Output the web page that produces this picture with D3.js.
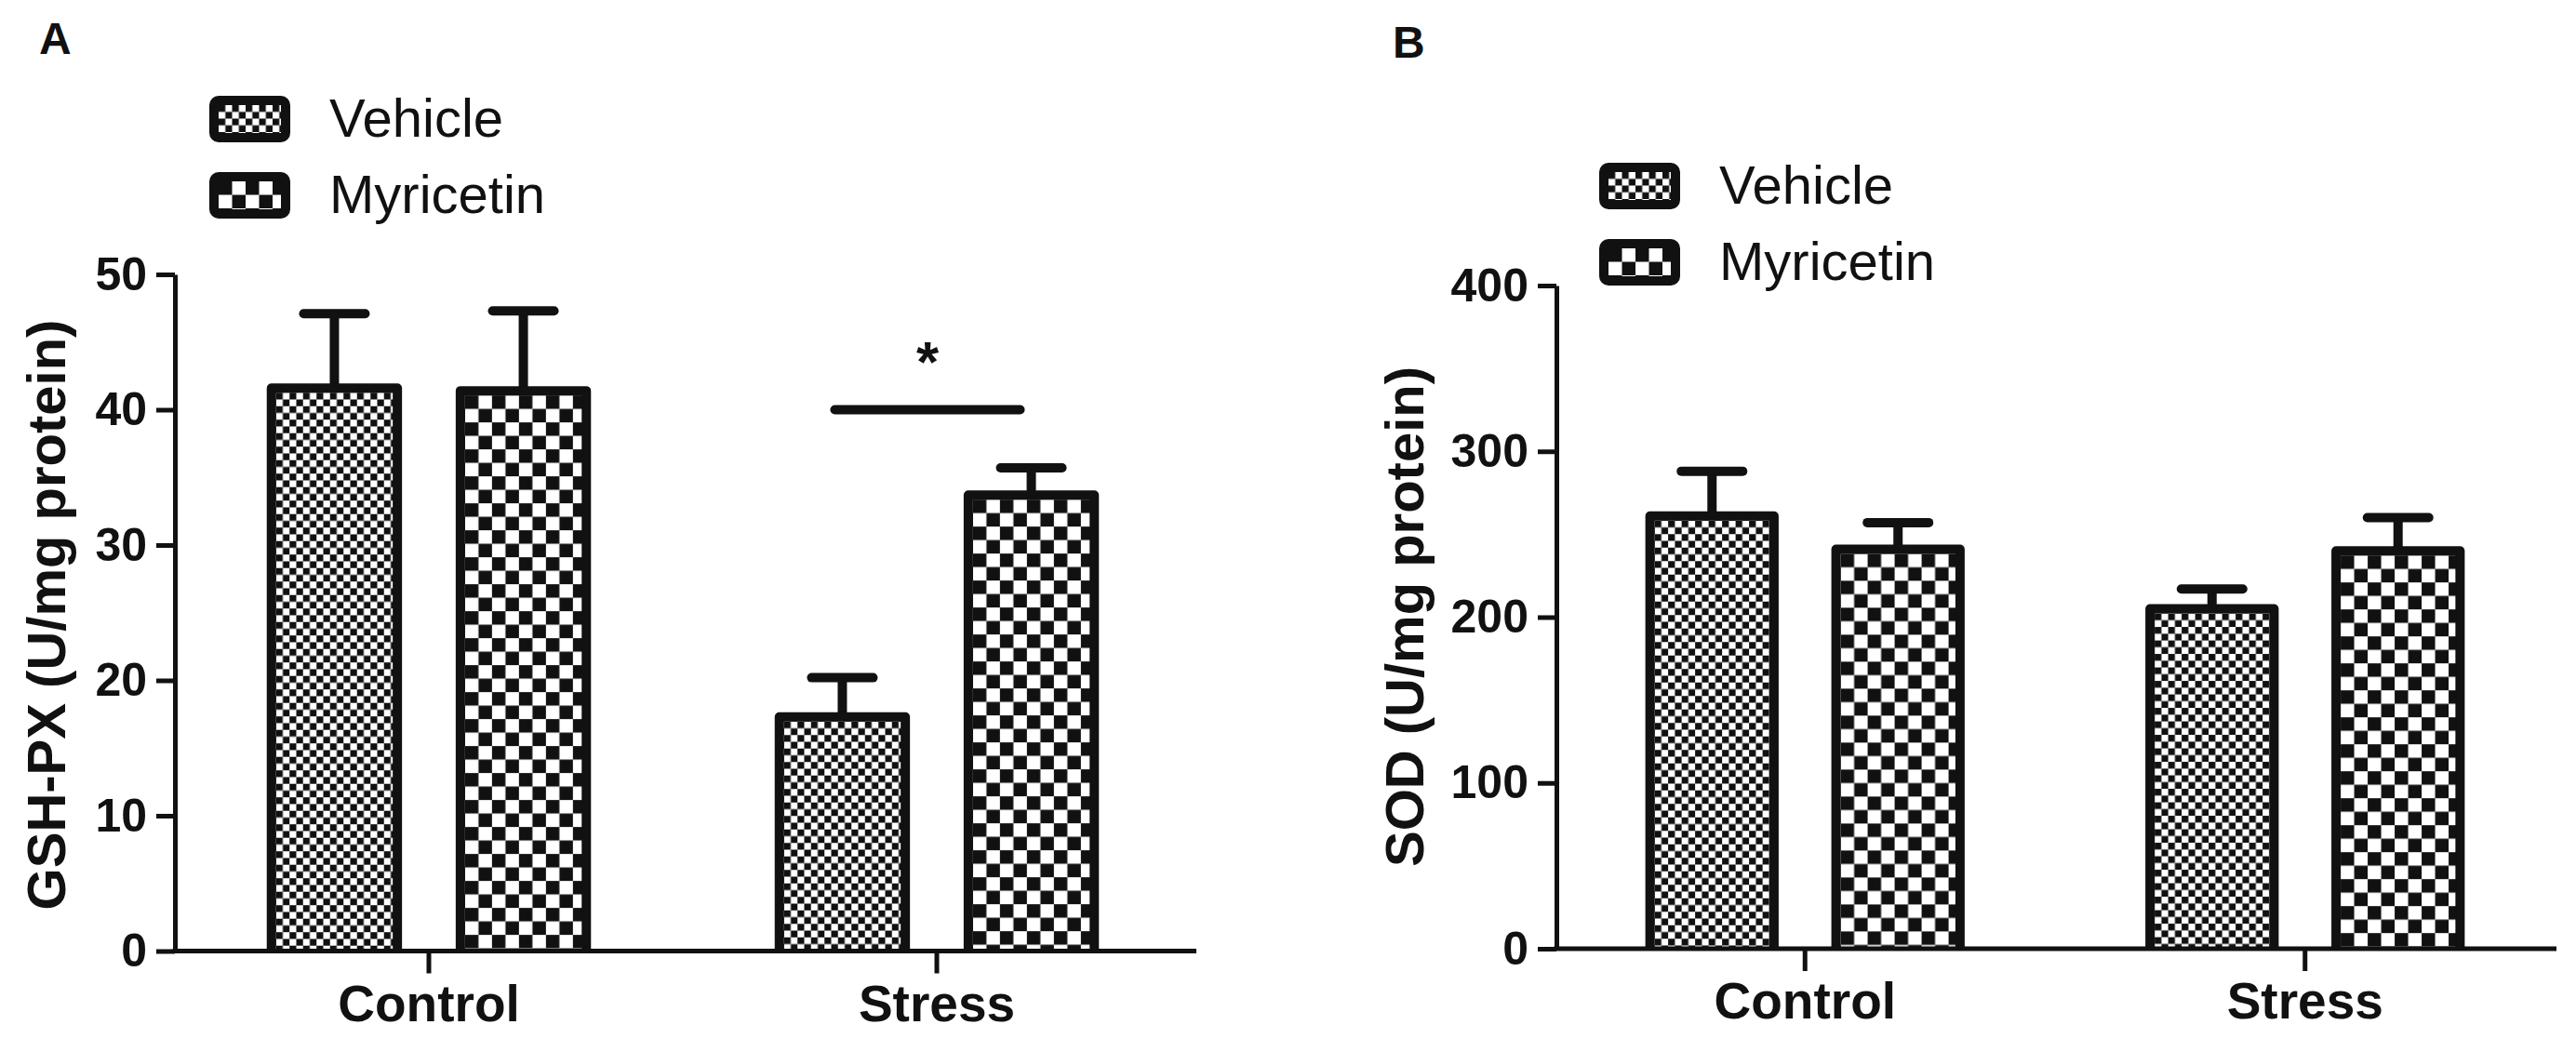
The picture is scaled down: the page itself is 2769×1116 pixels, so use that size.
<!DOCTYPE html>
<html>
<head>
<meta charset="utf-8">
<script src="https://cdn.jsdelivr.net/npm/d3@7"></script>
<style>
  body { margin: 0; background: #fff; }
  text { font-family: "Liberation Sans", Arial, sans-serif; fill: #111; }
</style>
</head>
<body>
<svg width="2769" height="1116"></svg>
<script>
'use strict';

// values (mean and SEM, rows = categories, cols = series)
var categories = ['Control', 'Stress'];
var series = ['Vehicle', 'Myricetin'];
var gshMean = [[41.6, 41.4], [17.3, 33.7]];
var gshSem = [[5.5, 5.9], [2.9, 2.0]];
var sodMean = [[261, 241], [205, 240]];
var sodSem = [[27, 16], [12, 20]];
var gshTicks = [0, 10, 20, 30, 40, 50];
var sodTicks = [0, 100, 200, 300, 400];

var ink = '#111';
var cellSize = [7.25, 14.5]; // checker cell per series

var svg = d3.select('svg');
var defs = svg.append('defs');

function makePattern(id, cell, x0, y0) {
    var p = defs.append('pattern')
        .attr('id', id)
        .attr('patternUnits', 'userSpaceOnUse')
        .attr('x', x0).attr('y', y0)
        .attr('width', cell * 2).attr('height', cell * 2);
    p.append('rect').attr('width', cell * 2).attr('height', cell * 2).attr('fill', '#fff');
    p.append('rect').attr('width', cell).attr('height', cell).attr('fill', ink);
    p.append('rect').attr('x', cell).attr('y', cell).attr('width', cell).attr('height', cell).attr('fill', ink);
    return 'url(#' + id + ')';
}

function drawPanel(o) {
    var g = svg.append('g');

    var y = d3.scaleLinear().domain([0, o.max]).range([o.bottom, o.top]);
    var x0 = d3.scaleBand().domain(categories).range(o.xRange)
        .paddingInner(0.38).paddingOuter(0.19);
    var x1 = d3.scaleBand().domain(series).range([0, x0.bandwidth()])
        .paddingInner(1 / 3);

    // panel letter
    g.append('text').attr('x', o.letterX).attr('y', o.letterY)
        .style('font-size', '48px').style('font-weight', 'bold').text(o.letter);

    // legend
    series.forEach(function(s, i) {
        var ly = o.legendY + i * 82;
        var fill = makePattern(o.id + '-leg-' + i, cellSize[i], o.legendX + 5, ly + 5);
        g.append('rect')
            .attr('x', o.legendX).attr('y', ly)
            .attr('width', 77).attr('height', 40).attr('rx', 5)
            .attr('fill', fill).attr('stroke', ink).attr('stroke-width', 10);
        g.append('text')
            .attr('x', o.legendX + 124).attr('y', ly + 39)
            .style('font-size', '58px').text(s);
    });

    // bars + error bars
    var rows = [];
    categories.forEach(function(c, ci) {
        series.forEach(function(s, si) {
            rows.push({cat: c, ser: s, si: si, key: o.id + '-' + ci + '-' + si,
                       mean: o.mean[ci][si], sem: o.sem[ci][si]});
        });
    });

    var bars = g.selectAll('.bar').data(rows).enter().append('g').attr('class', 'bar');

    bars.each(function(d) {
        var bx = x0(d.cat) + x1(d.ser);
        var bw = x1.bandwidth();
        var cx = bx + bw / 2;
        var top = y(d.mean);
        var errTop = y(d.mean + d.sem);
        var sel = d3.select(this);

        sel.append('line')
            .attr('x1', cx).attr('x2', cx).attr('y1', top).attr('y2', errTop)
            .attr('stroke', ink).attr('stroke-width', 10);
        sel.append('line')
            .attr('x1', cx - 33).attr('x2', cx + 33).attr('y1', errTop).attr('y2', errTop)
            .attr('stroke', ink).attr('stroke-width', 10).attr('stroke-linecap', 'round');

        var fill = makePattern('pat-' + d.key, cellSize[d.si], bx + 5, top + 5);
        sel.append('path')
            .attr('d', 'M' + bx + ',' + y(0) + 'V' + top + 'H' + (bx + bw) + 'V' + y(0))
            .attr('fill', fill).attr('stroke', ink).attr('stroke-width', 10)
            .attr('stroke-linejoin', 'round');
    });

    // y axis
    var yAxis = g.append('g').attr('transform', 'translate(' + o.xAxisStart + ',0)')
        .call(d3.axisLeft(y).tickValues(o.ticks).tickSize(20).tickPadding(10).tickSizeOuter(0));
    yAxis.select('.domain').attr('stroke', ink).attr('stroke-width', 5);
    yAxis.selectAll('.tick line').attr('stroke', ink).attr('stroke-width', 5);
    yAxis.selectAll('.tick text')
        .style('font-size', '50px').style('font-weight', 'bold')
        .style('font-family', '"Liberation Sans", Arial, sans-serif').attr('fill', ink);

    // x axis
    g.append('line')
        .attr('x1', o.xAxisStart - 2.5).attr('x2', o.xAxisEnd)
        .attr('y1', y(0)).attr('y2', y(0))
        .attr('stroke', ink).attr('stroke-width', 5);
    var xAxis = g.append('g').attr('transform', 'translate(0,' + y(0) + ')')
        .call(d3.axisBottom(x0).tickSize(24).tickPadding(12).tickSizeOuter(0));
    xAxis.select('.domain').remove();
    xAxis.selectAll('.tick line').attr('stroke', ink).attr('stroke-width', 5);
    xAxis.selectAll('.tick text')
        .style('font-size', '55px').style('font-weight', 'bold')
        .style('font-family', '"Liberation Sans", Arial, sans-serif').attr('fill', ink);

    // y label
    g.append('text')
        .attr('transform', 'translate(' + o.ylabelX + ',' + o.ylabelY + ') rotate(-90)')
        .attr('text-anchor', 'middle').attr('dy', '0.36em')
        .style('font-size', '58px').style('font-weight', 'bold')
        .text(o.ylabel);

    return {x0: x0, x1: x1, y: y, g: g};
}

var A = drawPanel({
    id: 'a', letter: 'A', letterX: 42, letterY: 58,
    legendX: 230, legendY: 108,
    max: 50, ticks: gshTicks, top: 295, bottom: 1022.5,
    xRange: [188, 1280], xAxisStart: 188, xAxisEnd: 1286,
    mean: gshMean, sem: gshSem,
    ylabel: 'GSH-PX (U/mg protein)', ylabelX: 49, ylabelY: 661
});

drawPanel({
    id: 'b', letter: 'B', letterX: 1497, letterY: 62,
    legendX: 1724, legendY: 180,
    max: 400, ticks: sodTicks, top: 307, bottom: 1020,
    xRange: [1671.5, 2746.5], xAxisStart: 1673, xAxisEnd: 2748,
    mean: sodMean, sem: sodSem,
    ylabel: 'SOD (U/mg protein)', ylabelX: 1509, ylabelY: 663
});

// significance mark between the Stress bars of panel A
var sx1 = A.x0('Stress') + A.x1('Vehicle') + A.x1.bandwidth() / 2 - 8;
var sx2 = A.x0('Stress') + A.x1('Myricetin') + A.x1.bandwidth() / 2 - 12;
A.g.append('line')
    .attr('x1', sx1).attr('x2', sx2).attr('y1', A.y(40)).attr('y2', A.y(40))
    .attr('stroke', ink).attr('stroke-width', 10).attr('stroke-linecap', 'round');
A.g.append('text')
    .attr('x', (sx1 + sx2) / 2).attr('y', A.y(40) - 31)
    .attr('text-anchor', 'middle')
    .style('font-size', '62px').style('font-weight', 'bold')
    .text('*');
</script>
</body>
</html>
